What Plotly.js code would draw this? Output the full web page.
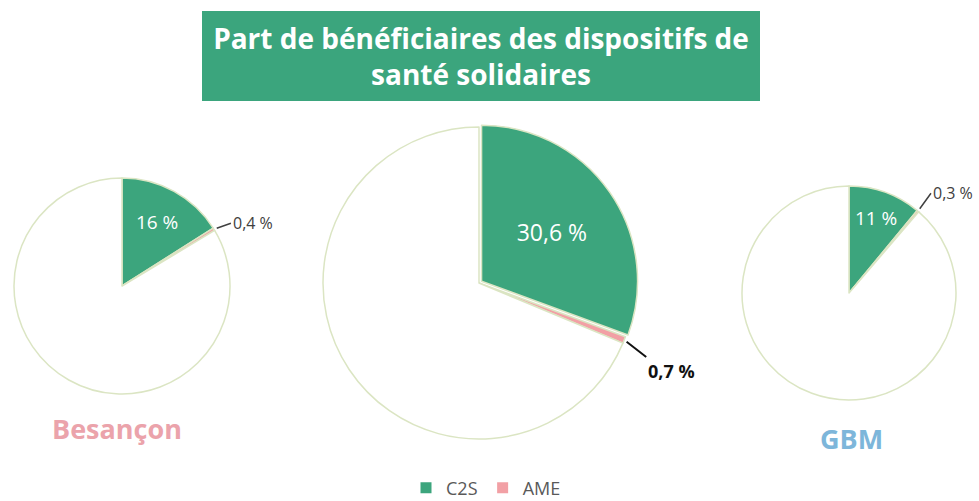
<!DOCTYPE html>
<html>
<head>
<meta charset="utf-8">
<script src="https://cdn.plot.ly/plotly-3.0.1.min.js"></script>
<style>html,body{margin:0;padding:0;background:#fff;}#chart{width:979px;height:501px;}</style>
</head>
<body>
<div id="chart"></div>
<script>
// ---- Data ----
const cities = ['Besançon', '', 'GBM'];
const seriesNames = ['C2S', 'AME'];
const c2s = [16, 30.6, 11];
const ame = [0.4, 0.7, 0.3];
const c2sLabels = ['16 %', '30,6 %', '11 %'];
const ameLabels = ['0,4 %', '0,7 %', '0,3 %'];

// ---- Styles / layout geometry ----
const W = 979, H = 501;
const colors = {C2S: '#3ca57d', AME: '#f2a0a5', rest: '#ffffff', outline: '#dbe5c3'};
const pies = [
  {cx: 122, cy: 286, r: 108, pull: 0, inFont: 19, ame: {ax: 17, ay: -6, xa: 'left', ya: 'middle', size: 16, color: '#404040', bold: false, aw: 1.5}},
  {cx: 479, cy: 283, r: 156, pull: 0.02, inFont: 23, ame: {ax: 22, ay: 17, xa: 'left', ya: 'top', size: 18, color: '#111111', bold: true, aw: 2}},
  {cx: 849, cy: 293, r: 107, pull: 0, inFont: 19, ame: {ax: 13, ay: -18, xa: 'left', ya: 'middle', size: 16, color: '#404040', bold: false, aw: 1.5}}
];
const cityStyle = [
  {x: 117, y: 428, color: '#eba3ab'},
  null,
  {x: 851, y: 438, color: '#7db6da'}
];
const FONT = '"Open Sans", Lato, sans-serif';

const px2x = v => v / W;
const px2y = v => 1 - v / H;

const data = [];
const annotations = [];

pies.forEach((p, i) => {
  const rd = p.r * (1 + p.pull);
  data.push({
    type: 'pie',
    values: [c2s[i], ame[i], 100 - c2s[i] - ame[i]],
    labels: [seriesNames[0], seriesNames[1], 'Autres'],
    text: [c2sLabels[i], '', ''],
    textinfo: 'text',
    textposition: ['inside', 'none', 'none'],
    insidetextorientation: 'horizontal',
    insidetextfont: {color: '#ffffff', size: p.inFont, family: FONT},
    sort: false,
    direction: 'clockwise',
    rotation: 0,
    pull: [p.pull, 0, 0],
    marker: {colors: [colors.C2S, colors.AME, colors.rest], line: {color: colors.outline, width: 1.5}},
    showlegend: false,
    hoverinfo: 'label+value',
    domain: {x: [px2x(p.cx - rd), px2x(p.cx + rd)], y: [px2y(p.cy + rd), px2y(p.cy - rd)]}
  });
  // AME label placed on the slice edge computed from data
  const theta = (c2s[i] + ame[i] / 2) / 100 * 2 * Math.PI;
  const ex = p.cx + p.r * Math.sin(theta);
  const ey = p.cy - p.r * Math.cos(theta);
  const a = p.ame;
  annotations.push({
    x: px2x(ex), y: px2y(ey), xref: 'paper', yref: 'paper',
    text: a.bold ? '<b>' + ameLabels[i] + '</b>' : ameLabels[i],
    showarrow: true, arrowhead: 0, arrowwidth: a.aw, arrowcolor: a.color,
    ax: a.ax, ay: a.ay, standoff: 3, xanchor: a.xa, yanchor: a.ya,
    borderpad: 2, borderwidth: 0,
    font: {family: FONT, size: a.size, color: a.color}
  });
  if (cities[i] && cityStyle[i]) {
    annotations.push({
      x: px2x(cityStyle[i].x), y: px2y(cityStyle[i].y), xref: 'paper', yref: 'paper',
      text: '<b>' + cities[i] + '</b>', showarrow: false, xanchor: 'center', yanchor: 'middle',
      font: {family: FONT, size: 27, color: cityStyle[i].color}
    });
  }
});

// Title box
annotations.push({
  x: px2x(481), y: px2y(56), xref: 'paper', yref: 'paper',
  text: '<b>Part de bénéficiaires des dispositifs de<br>santé solidaires</b>',
  showarrow: false, xanchor: 'center', yanchor: 'middle',
  bgcolor: '#3ba57d', borderwidth: 0, borderpad: 0, width: 558, height: 90,
  font: {family: FONT, size: 28, color: '#ffffff'}
});

// Legend entries
seriesNames.forEach(n => {
  data.push({
    type: 'scatter', mode: 'markers', x: [null], y: [null], name: n,
    marker: {symbol: 'square', size: 11, color: colors[n]},
    showlegend: true, hoverinfo: 'skip'
  });
});

const layout = {
  width: W, height: H,
  margin: {l: 0, r: 0, t: 0, b: 0, autoexpand: false},
  paper_bgcolor: '#ffffff', plot_bgcolor: '#ffffff',
  xaxis: {visible: false}, yaxis: {visible: false},
  showlegend: true,
  legend: {orientation: 'h', x: px2x(486), xanchor: 'center', y: px2y(488), yanchor: 'middle',
           font: {family: FONT, size: 18, color: '#595959'}, itemwidth: 30, tracegroupgap: 0,
           bgcolor: 'rgba(0,0,0,0)'},
  annotations: annotations,
  font: {family: FONT}
};

Plotly.newPlot('chart', data, layout, {displayModeBar: false, staticPlot: true});
</script>
</body>
</html>
